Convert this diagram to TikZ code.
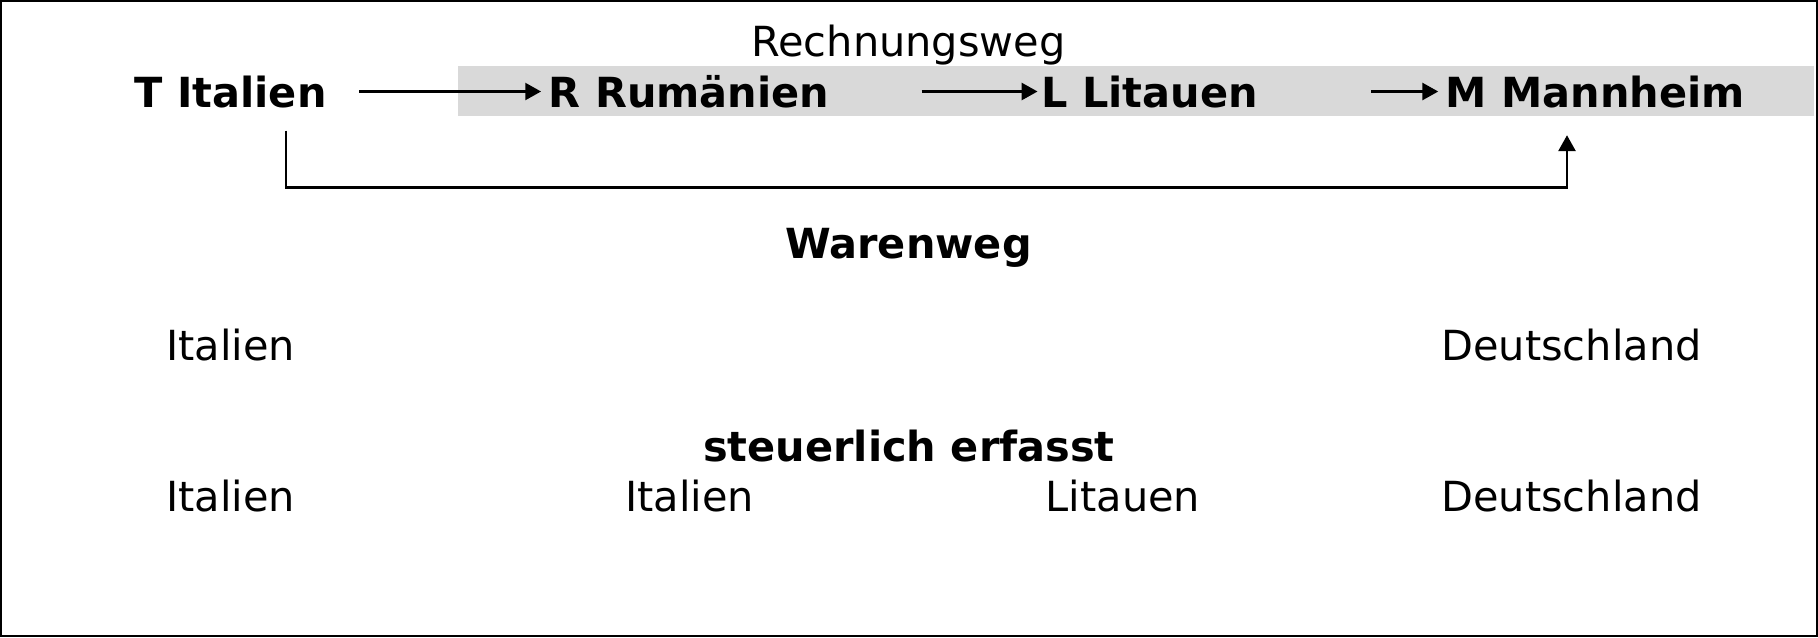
\documentclass[tikz,border=0pt]{standalone}
\usepackage{fontspec}
\setmainfont{DejaVu Sans}
\usepackage{tikz}
\usetikzlibrary{arrows.meta}
\definecolor{bandgrau}{RGB}{217,217,217}

\begin{document}
\begin{tikzpicture}[every node/.style={inner sep=0pt,anchor=base,font=\fontsize{11.8pt}{14pt}\selectfont},
	firma/.style={font=\fontsize{11.8pt}{14pt}\selectfont\bfseries,text height=0.31cm,text depth=0pt},
	titel/.style={font=\fontsize{11.8pt}{14pt}\selectfont\bfseries},
	pfeil/.style={-{Triangle[length=4.5pt,width=4.8pt]},line width=0.75pt}]
\useasboundingbox (0,0) rectangle (18.18,-6.37);
\draw[line width=0.7pt] (0.012,-0.012) rectangle (18.168,-6.358);
\fill[bandgrau] (4.58,-0.66) rectangle (18.14,-1.16);
\node (rw) at (9.085,-0.56) {Rechnungsweg};
\node [firma] (t) at (2.305,-1.07) {T Italien};
\node [firma] (r) at (6.89,-1.07) {R Rumänien};
\node [firma] (l) at (11.495,-1.07) {L Litauen};
\node [firma] (m) at (15.955,-1.07) {M Mannheim};
\draw[pfeil] ([xshift=0.32cm]t.east) -- ([xshift=-0.07cm]r.west);
\draw[pfeil] ([xshift=0.917cm]r.east) -- ([xshift=-0.03cm]l.west);
\draw[pfeil] ([xshift=1.13cm]l.east) -- ([xshift=-0.07cm]m.west);
\draw[pfeil] ([xshift=0.555cm,yshift=-0.23cm]t.south) -- ++(0,-0.57) -| ([xshift=-0.285cm,yshift=-0.275cm]m.south);
\node [titel] (ww) at (9.085,-2.58) {Warenweg};
\node (it1) at (2.305,-3.60) {Italien};
\node (de1) at (15.715,-3.60) {Deutschland};
\node [titel] (st) at (9.09,-4.61) {steuerlich erfasst};
\node (it2) at (2.305,-5.11) {Italien};
\node (it3) at (6.895,-5.11) {Italien};
\node (li) at (11.23,-5.11) {Litauen};
\node (de2) at (15.715,-5.11) {Deutschland};
\end{tikzpicture}
\end{document}
